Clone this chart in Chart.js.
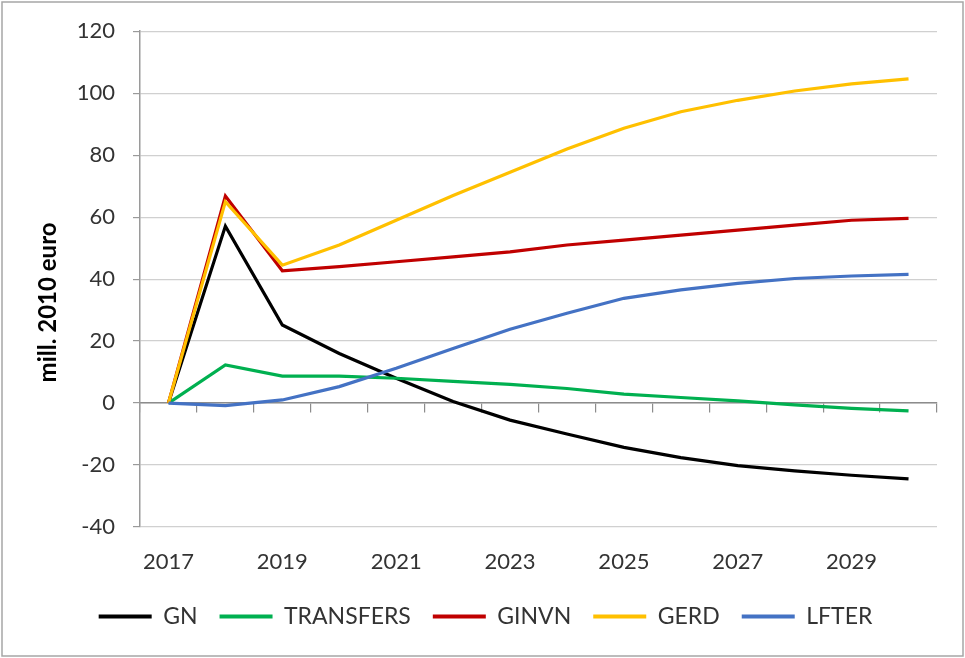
<!DOCTYPE html>
<html>
<head>
<meta charset="utf-8">
<script src="https://cdn.jsdelivr.net/npm/chart.js@4"></script>
<style>
  html, body { margin: 0; padding: 0; background: #fff; }
  #wrap { width: 965px; height: 658px; position: relative; }
</style>
</head>
<body>
<div id="wrap"><canvas id="c" width="965" height="658"></canvas></div>
<script>
const years = ['2017','2018','2019','2020','2021','2022','2023','2024','2025','2026','2027','2028','2029','2030'];
const GN        = [0, 57.1, 25.2, 16.0, 8.0, 0.5, -5.5, -10.0, -14.3, -17.6, -20.2, -21.9, -23.3, -24.5];
const TRANSFERS = [0, 12.3, 8.7, 8.7, 8.0, 7.0, 6.0, 4.7, 2.9, 1.8, 0.7, -0.6, -1.7, -2.5];
const GINVN     = [0, 66.8, 42.7, 44.0, 45.6, 47.2, 48.8, 51.0, 52.6, 54.2, 55.8, 57.4, 59.0, 59.6];
const GERD      = [0, 65.0, 44.5, 51.0, 59.0, 67.0, 74.5, 82.0, 88.7, 94.0, 97.7, 100.7, 103.0, 104.6];
const LFTER     = [0, -0.8, 1.0, 5.3, 11.2, 17.6, 23.8, 29.0, 33.8, 36.5, 38.6, 40.2, 41.0, 41.5];
const yTicks = { min: -40, max: 120, step: 20 };
const shownYearLabels = ['2017','2019','2021','2023','2025','2027','2029'];

const FONT = 'Lato, "Open Sans", sans-serif';
const TXT = '#333333';

function ds(label, data, color, order) {
  return { label, data, borderColor: color, backgroundColor: color, borderWidth: 3.2,
           pointRadius: 0, pointHoverRadius: 0, tension: 0, fill: false, order, xAxisID: 'x', yAxisID: 'y' };
}

const frame = {
  id: 'frame',
  afterDraw(chart) {
    const ctx = chart.ctx;
    ctx.save();
    ctx.strokeStyle = '#a6a6a6';
    ctx.lineWidth = 1.5;
    ctx.strokeRect(2, 2, chart.width - 4, chart.height - 4);
    ctx.restore();
  }
};

new Chart(document.getElementById('c'), {
  type: 'line',
  data: {
    labels: years,
    datasets: [
      ds('GN', GN, '#000000', 5),
      ds('TRANSFERS', TRANSFERS, '#00B050', 4),
      ds('GINVN', GINVN, '#C00000', 3),
      ds('GERD', GERD, '#FFC000', 2),
      ds('LFTER', LFTER, '#4472C4', 1)
    ]
  },
  options: {
    responsive: false,
    animation: false,
    devicePixelRatio: 1,
    layout: { padding: { top: 31, right: 28, bottom: 20, left: 34 } },
    plugins: {
      tooltip: { enabled: false },
      legend: {
        position: 'bottom',
        labels: {
          font: { family: FONT, size: 23 },
          color: TXT,
          boxWidth: 53,
          boxHeight: 4,
          padding: 22,
          sort: (a, b) => a.datasetIndex - b.datasetIndex,
          generateLabels(chart) {
            const items = Chart.defaults.plugins.legend.labels.generateLabels(chart);
            items.forEach(it => { it.lineWidth = 0; it.fillStyle = it.strokeStyle; });
            return items;
          }
        }
      }
    },
    scales: {
      x: {
        type: 'category',
        position: 'bottom',
        offset: true,
        grid: { display: false, offset: true },
        border: { display: false },
        ticks: {
          autoSkip: false, maxRotation: 0, padding: 14,
          font: { family: FONT, size: 22 }, color: TXT,
          callback(v, i) { const l = years[i]; return shownYearLabels.includes(l) ? l : ''; }
        },
        afterFit(scale) { scale.height = 56; }
      },
      x0: {
        type: 'category',
        position: { y: 0 },
        offset: true,
        grid: { display: true, offset: true, drawOnChartArea: false, drawTicks: true, tickLength: 9, color: '#8c8c8c', lineWidth: 1.2 },
        border: { display: true, color: '#8c8c8c', width: 1.5 },
        ticks: { display: false, autoSkip: false }
      },
      y: {
        min: yTicks.min, max: yTicks.max,
        ticks: { stepSize: yTicks.step, padding: 18, font: { family: FONT, size: 22 }, color: TXT },
        grid: { color: '#d0d0d0', lineWidth: 1.2, tickLength: 7, tickColor: '#9a9a9a' },
        border: { display: true, color: '#9a9a9a', width: 1.5 },
        title: {
          display: true,
          text: 'mill. 2010 euro        ',
          font: { family: FONT, size: 24, weight: 'bold' },
          color: '#000',
          padding: { top: 0, bottom: 0 }
        },
        afterFit(scale) { scale.width = 106; }
      }
    }
  },
  plugins: [frame]
});
</script>
</body>
</html>
